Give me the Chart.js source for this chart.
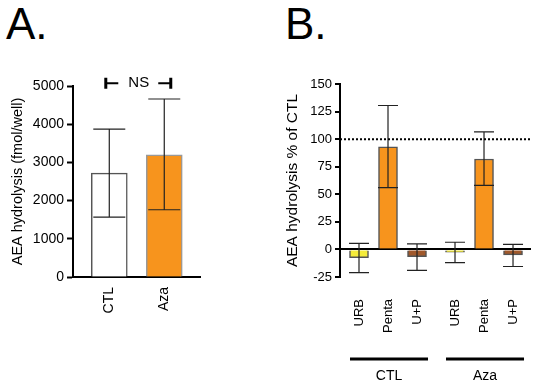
<!DOCTYPE html>
<html>
<head>
<meta charset="utf-8">
<script src="https://cdn.jsdelivr.net/npm/chart.js@4/dist/chart.umd.min.js"></script>
<style>
  body { margin: 0; background: #fff; width: 539px; height: 392px; position: relative; overflow: hidden; font-family: "Liberation Sans", Arial, sans-serif; }
  canvas { position: absolute; top: 0; }
  .lab { position: absolute; font-size: 44px; line-height: 1; color: #000; }
</style>
</head>
<body>
<div class="lab" style="left:6px;top:2px">A.</div>
<div class="lab" style="left:285px;top:2px">B.</div>
<canvas id="chartA" width="230" height="392" style="left:0"></canvas>
<canvas id="chartB" width="309" height="392" style="left:230px"></canvas>
<script>
// panel A
const catsA = ["CTL", "Aza"];
const valsA = [2720, 3200];
const errLowA = [1570, 1760];
const errHighA = [3870, 4660];
const colorsA = ["#ffffff", "#f7941d"];
const bordersA = ["#555555", "#999999"];
const ticksA = [0, 1000, 2000, 3000, 4000, 5000];

// panel B
const catsB = ["URB", "Penta", "U+P", "URB", "Penta", "U+P"];
const groupsB = ["CTL", "Aza"];
const valsB = [-7.5, 93, -6.5, -2.5, 82, -5];
const errLowB = [-21, 56, -19, -12, 58, -15.5];
const errHighB = [5.5, 130.5, 5, 6.5, 106.5, 4.5];
const colorsB = ["#f5ec3a", "#f7941d", "#a0582b", "#f5ec3a", "#f7941d", "#a0582b"];
const ticksB = [-25, 0, 25, 50, 75, 100, 125, 150];
const refLine = 100;

const font14 = { family: "Liberation Sans, Arial", size: 14 };
const font13 = { family: "Liberation Sans, Arial", size: 13 };

// x position of each bar: groups of three with an extra gap between groups
const xPosB = catsB.map((c, i) => i + 1 + (i >= 3 ? 0.31 : 0));

const errorBars = {
  id: "errorBars",
  afterDatasetsDraw(chart, args, opts) {
    const ctx = chart.ctx;
    const xs = chart.scales.x, ys = chart.scales.y;
    const pts = chart.data.datasets[0].data;
    ctx.save();
    ctx.strokeStyle = "#222";
    ctx.lineWidth = 1.2;
    pts.forEach((p, i) => {
      const x = xs.getPixelForValue(p.x);
      const y1 = ys.getPixelForValue(opts.low[i]);
      const y2 = ys.getPixelForValue(opts.high[i]);
      ctx.beginPath();
      ctx.moveTo(x, y1); ctx.lineTo(x, y2);
      ctx.moveTo(x - opts.cap, y1); ctx.lineTo(x + opts.cap, y1);
      ctx.moveTo(x - opts.cap, y2); ctx.lineTo(x + opts.cap, y2);
      ctx.stroke();
    });
    ctx.restore();
  }
};

const nsMark = {
  id: "nsMark",
  afterDraw(chart) {
    const ctx = chart.ctx;
    const xs = chart.scales.x, ys = chart.scales.y;
    const y = ys.getPixelForValue(5070);
    const x1 = xs.getPixelForValue(1), x2 = xs.getPixelForValue(2);
    ctx.save();
    ctx.strokeStyle = "#000";
    ctx.lineWidth = 2;
    ctx.beginPath();
    ctx.moveTo(x1 - 4, y); ctx.lineTo(x1 + 9, y);
    ctx.moveTo(x2 - 6, y); ctx.lineTo(x2 + 7, y);
    ctx.stroke();
    ctx.lineWidth = 3;
    ctx.beginPath();
    ctx.moveTo(x1 - 3.5, y - 5.5); ctx.lineTo(x1 - 3.5, y + 5.5);
    ctx.moveTo(x2 + 6.5, y - 5.5); ctx.lineTo(x2 + 6.5, y + 5.5);
    ctx.stroke();
    ctx.fillStyle = "#000";
    ctx.font = "15px 'Liberation Sans', Arial";
    ctx.textAlign = "center";
    ctx.textBaseline = "middle";
    ctx.fillText("NS", (x1 + x2) / 2 + 2, y);
    ctx.restore();
  }
};

const refAndGroups = {
  id: "refAndGroups",
  afterDraw(chart) {
    const ctx = chart.ctx;
    const xs = chart.scales.x, ys = chart.scales.y;
    const a = chart.chartArea;
    const y = ys.getPixelForValue(refLine);
    ctx.save();
    ctx.strokeStyle = "#000";
    ctx.lineWidth = 2;
    ctx.setLineDash([2, 2]);
    ctx.beginPath();
    ctx.moveTo(a.left, y); ctx.lineTo(a.right, y);
    ctx.stroke();
    ctx.setLineDash([]);
    ctx.lineWidth = 3;
    ctx.fillStyle = "#000";
    ctx.font = "14px 'Liberation Sans', Arial";
    ctx.textAlign = "center";
    ctx.textBaseline = "middle";
    groupsB.forEach((g, k) => {
      const l = xs.getPixelForValue(xPosB[k * 3]) - 9;
      const r = xs.getPixelForValue(xPosB[k * 3 + 2]) + 11;
      ctx.beginPath();
      ctx.moveTo(l, 359); ctx.lineTo(r, 359);
      ctx.stroke();
      ctx.fillText(g, (l + r) / 2, 376);
    });
    ctx.restore();
  }
};

new Chart(document.getElementById("chartA"), {
  type: "bar",
  data: {
    datasets: [{
      data: valsA.map((v, i) => ({ x: i + 1, y: v })),
      backgroundColor: colorsA,
      borderColor: bordersA,
      borderWidth: 1.5,
      barThickness: 36,
    }]
  },
  options: {
    responsive: false,
    animation: false,
    layout: { padding: { top: 86, right: 30, left: 0, bottom: 52 } },
    plugins: {
      legend: { display: false },
      tooltip: { enabled: false },
      errorBars: { low: errLowA, high: errHighA, cap: 16 },
    },
    scales: {
      x: {
        type: "linear",
        offset: false,
        min: 0.34,
        max: 2.65,
        afterFit: (s) => { s.height = 63; },
        afterBuildTicks: (s) => { s.ticks = catsA.map((c, i) => ({ value: i + 1 })); },
        grid: { display: false, drawTicks: false, offset: false },
        border: { display: true, color: "#000", width: 2 },
        ticks: {
          font: font14, color: "#000", padding: 10,
          minRotation: 90, maxRotation: 90,
          callback: (v) => catsA[v - 1],
        },
      },
      y: {
        min: 0,
        max: 5000,
        afterFit: (s) => { s.width = 73; },
        afterBuildTicks: (s) => { s.ticks = ticksA.map((v) => ({ value: v })); },
        grid: { drawOnChartArea: false, drawTicks: true, tickLength: 6, tickColor: "#000", tickWidth: 2 },
        border: { display: true, color: "#000", width: 2 },
        ticks: { font: font14, color: "#000", padding: 3, callback: (v) => String(v) },
        title: { display: true, text: "AEA hydrolysis (fmol/well)", font: { family: "Liberation Sans, Arial", size: 14.5 }, color: "#000", padding: { top: 9, bottom: 0 } },
      },
    },
  },
  plugins: [errorBars, nsMark],
});

new Chart(document.getElementById("chartB"), {
  type: "bar",
  data: {
    datasets: [{
      data: valsB.map((v, i) => ({ x: xPosB[i], y: v })),
      backgroundColor: colorsB,
      borderColor: "#555555",
      borderWidth: 1.5,
      barThickness: 19,
    }]
  },
  options: {
    responsive: false,
    animation: false,
    layout: { padding: { top: 84, right: 8, left: 0, bottom: 50 } },
    plugins: {
      legend: { display: false },
      tooltip: { enabled: false },
      errorBars: { low: errLowB, high: errHighB, cap: 10 },
    },
    scales: {
      x: {
        type: "linear",
        offset: false,
        min: 0.345,
        max: 6.93,
        afterFit: (s) => { s.height = 65; },
        afterBuildTicks: (s) => { s.ticks = xPosB.map((v) => ({ value: v })); },
        grid: {
          display: true, drawOnChartArea: false, drawTicks: true, tickLength: 20,
          color: "rgba(0,0,0,0)", tickColor: "rgba(0,0,0,0)", offset: false,
        },
        border: { display: false },
        ticks: {
          font: font13, color: "#000", padding: 2,
          minRotation: 90, maxRotation: 90,
          callback: (v) => catsB[xPosB.indexOf(v)],
        },
      },
      y: {
        min: -25,
        max: 150,
        afterFit: (s) => { s.width = 110; },
        afterBuildTicks: (s) => { s.ticks = ticksB.map((v) => ({ value: v })); },
        grid: {
          drawOnChartArea: true, drawTicks: true, tickLength: 5,
          color: (c) => (c.tick && c.tick.value === 0 ? "#000" : "rgba(0,0,0,0)"),
          lineWidth: 2, tickColor: "#000", tickWidth: 2,
        },
        border: { display: true, color: "#000", width: 2 },
        ticks: { font: font13, color: "#000", padding: 3 },
        title: { display: true, text: "AEA hydrolysis % of CTL", font: { family: "Liberation Sans, Arial", size: 15.5 }, color: "#000", padding: { top: 53, bottom: 0 } },
      },
    },
  },
  plugins: [errorBars, refAndGroups],
});
</script>
</body>
</html>
